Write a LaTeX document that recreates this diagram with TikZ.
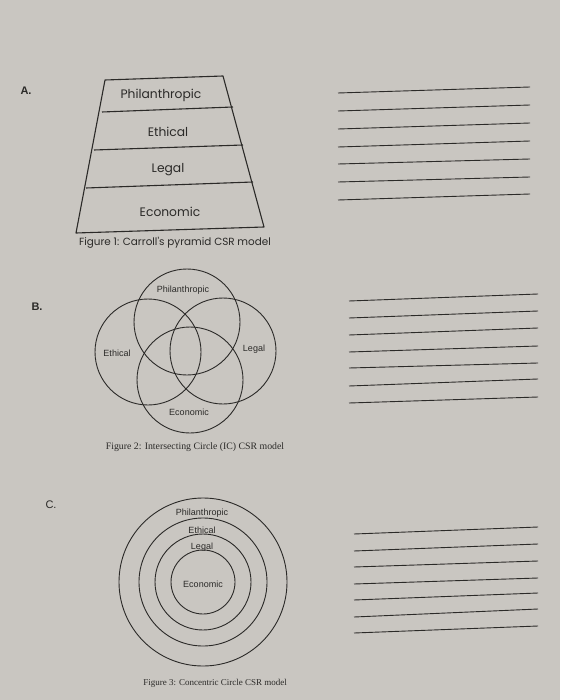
\documentclass[tikz,border=0pt]{standalone}
\usepackage{fontspec}
\setmainfont{Liberation Serif}
\newfontfamily\geofont{Poppins}
\newfontfamily\arialfont{Liberation Sans}
\definecolor{paper}{HTML}{C9C6C1}
\definecolor{ink}{HTML}{2B2A28}
\begin{document}
\begin{tikzpicture}[x=1pt,y=-1pt,
  shape line/.style={draw=ink,line width=1.1pt,line join=round},
  circ line/.style={draw=ink,line width=0.9pt},
  rule line/.style={draw=ink,line width=0.9pt},
  pyrlabel/.style={font=\geofont\fontsize{12.3}{14}\selectfont,text=ink,inner sep=0pt},
  smalllabel/.style={font=\arialfont\fontsize{9}{10}\selectfont,text=ink,inner sep=0pt},
  serifcap/.style={font=\fontsize{9.8}{11}\selectfont,text=ink,inner sep=0pt},
  partletter/.style={font=\arialfont\bfseries\fontsize{11}{13}\selectfont,text=ink,inner sep=0pt}]
\fill[paper] (0,0) rectangle (560,700);
\useasboundingbox (0,0) rectangle (560,700);

% ---------- A ----------
\node[partletter] (lA) at (26,91) {A.};
\draw[shape line] (105,80) -- (223,76) -- (264,227) -- (76,233) -- cycle;
\draw[shape line] (102,112) -- (233,107);
\draw[shape line] (94,150) -- (243,145);
\draw[shape line] (86,188) -- (253,182);
\node[pyrlabel] (pA1) at (161,95) {Philanthropic};
\node[pyrlabel] (pA2) at (168,132) {Ethical};
\node[pyrlabel] (pA3) at (168,170) {Legal};
\node[pyrlabel] (pA4) at (170,212) {Economic};
\node[pyrlabel,font=\geofont\fontsize{10.4}{12}\selectfont] (capA) at (175,243) {Figure 1: Carroll's pyramid CSR model};
\foreach \yl/\yr in {93/87,111/105,129/123,147/141,164/159,182/177,200/194}
  \draw[rule line] (338,\yl) -- (530,\yr);

% ---------- B ----------
\node[partletter] (lB) at (37,307) {B.};
\draw[circ line] (187,322) circle (53);
\draw[circ line] (148,352) circle (53);
\draw[circ line] (223,351) circle (53);
\draw[circ line] (190,380) circle (53);
\node[smalllabel] (pB1) at (183,290) {Philanthropic};
\node[smalllabel] (pB2) at (117,353) {Ethical};
\node[smalllabel] (pB3) at (254,349) {Legal};
\node[smalllabel] (pB4) at (189,412) {Economic};
\node[serifcap] (capB) at (195,447) {Figure 2: Intersecting Circle (IC) CSR model};
\foreach \yl/\yr in {301/294,318/311,335/328,352/346,368/363,386/379,403/397}
  \draw[rule line] (349,\yl) -- (538,\yr);

% ---------- C ----------
\node[partletter,font=\arialfont\fontsize{11}{13}\selectfont] (lC) at (51,505) {C.};
\draw[circ line] (203,582) circle (84);
\draw[circ line] (203,582) circle (64);
\draw[circ line] (203,582) circle (48);
\draw[circ line] (203,582) circle (32);
\node[smalllabel] (pC1) at (202,513) {Philanthropic};
\node[smalllabel] (pC2) at (202,530) {Ethical};
\node[smalllabel] (pC3) at (202,547) {Legal};
\node[smalllabel] (pC4) at (203,584) {Economic};
\node[serifcap,font=\fontsize{9}{10}\selectfont] (capC) at (215,683) {Figure 3: Concentric Circle CSR model};
\foreach \yl/\yr in {534/527,551/544,567/561,584/578,600/593,617/609,633/626}
  \draw[rule line] (354,\yl) -- (538,\yr);
\end{tikzpicture}
\end{document}
